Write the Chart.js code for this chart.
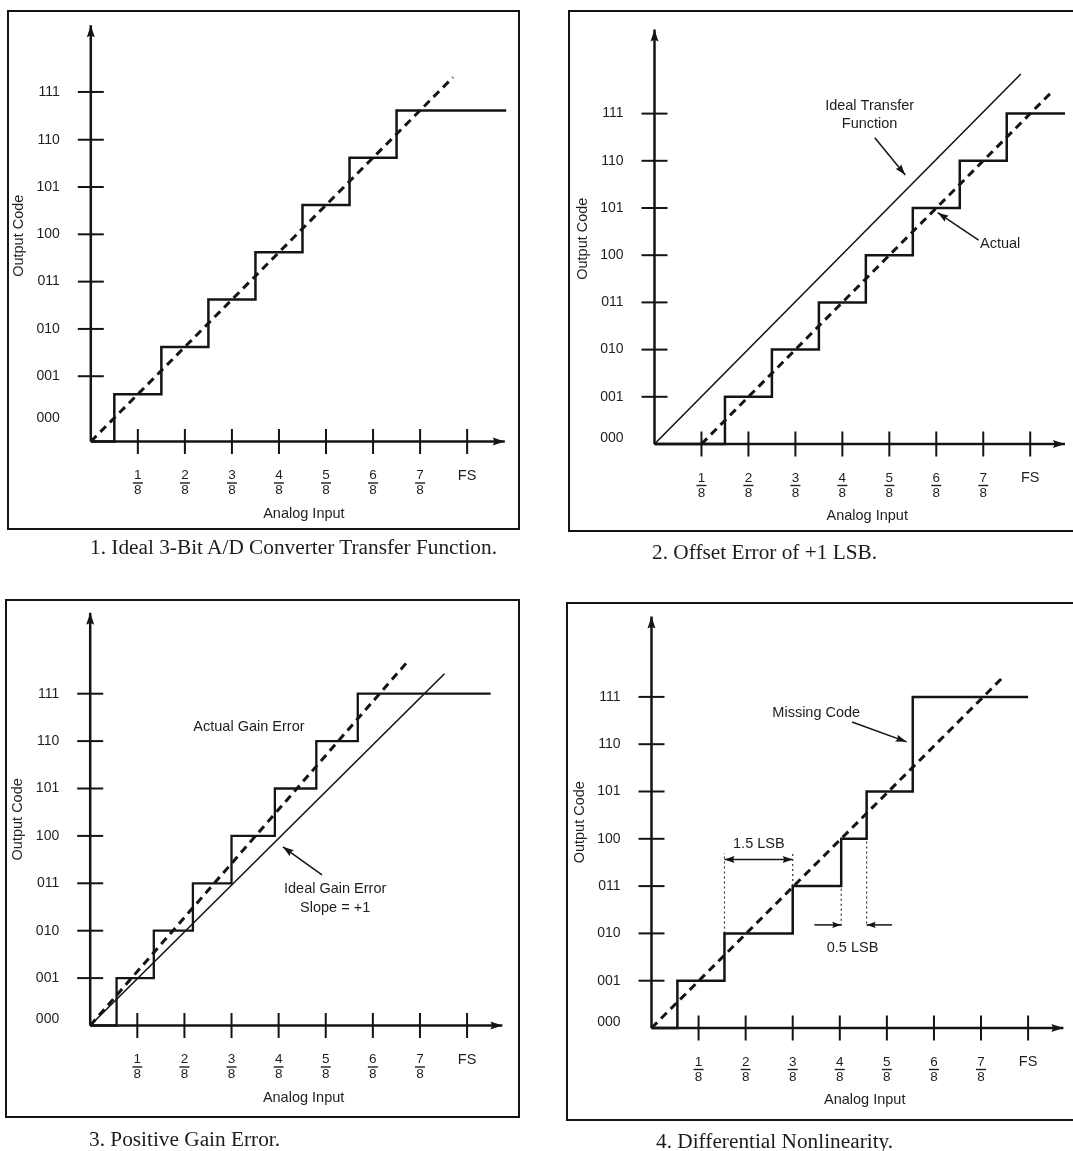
<!DOCTYPE html>
<html>
<head>
<meta charset="utf-8">
<script src="https://cdn.jsdelivr.net/npm/chart.js@4.4.1/dist/chart.umd.min.js"></script>
<style>
html,body{margin:0;padding:0;background:#fff;overflow:hidden;}
#page{position:relative;width:1073px;height:1151px;overflow:hidden;background:#fff;}
.frame{position:absolute;box-sizing:border-box;border:2.5px solid #141414;}
canvas{position:absolute;}
.cap{position:absolute;font-family:"Liberation Serif","Times New Roman",serif;font-size:21.3px;line-height:21px;color:#1c1c1c;white-space:nowrap;}
</style>
</head>
<body>
<div id="page">
  <div class="frame" style="left:7px;top:9.5px;width:513px;height:520px"></div>
  <div class="frame" style="left:568px;top:10px;width:520px;height:522px"></div>
  <div class="frame" style="left:5px;top:599px;width:515px;height:519px"></div>
  <div class="frame" style="left:566px;top:601.5px;width:520px;height:519px"></div>
  <canvas id="c1"></canvas>
  <canvas id="c2"></canvas>
  <canvas id="c3"></canvas>
  <canvas id="c4"></canvas>
  <div class="cap" style="left:90px;top:537px">1. Ideal 3-Bit A/D Converter Transfer Function.</div>
  <div class="cap" style="left:652px;top:542px">2. Offset Error of +1 LSB.</div>
  <div class="cap" style="left:89px;top:1129px">3. Positive Gain Error.</div>
  <div class="cap" style="left:656px;top:1131px">4. Differential Nonlinearity.</div>
</div>
<script>
// ---------- shared axis data ----------
const codeLabels = ['000','001','010','011','100','101','110','111'];
const xTickVals = [1,2,3,4,5,6,7,8];
const xTickLabels = [['1','8'],['2','8'],['3','8'],['4','8'],['5','8'],['6','8'],['7','8'],'FS'];

// ---------- Panel 1: ideal transfer function ----------
const p1CodePos = [0.49,1.38,2.38,3.38,4.38,5.38,6.38,7.39];
const p1Risers = [0.5,1.5,2.5,3.5,4.5,5.5,6.5];
const p1Codes = [1,2,3,4,5,6,7];
const p1StairEnd = 8.83;
const p1DashX = [0,7.7];
const p1DashY = [0,7.7];
const p1AxisTop = 8.8;
const p1AxisRight = 8.8;

// ---------- Panel 2: offset error ----------
const p2CodePos = [0.12,1,2,3,4,5,6,7];
const p2Risers = [1.5,2.5,3.5,4.5,5.5,6.5,7.5];
const p2Codes = [1,2,3,4,5,6,7];
const p2StairEnd = 8.74;
const p2DashX = [1,8.45];
const p2DashY = [0,7.45];
const p2IdealX = [0,7.8];
const p2IdealY = [0,7.84];
const p2AxisTop = 8.78;
const p2AxisRight = 8.74;
const p2NoteText = ['Ideal Transfer','Function','Actual'];
const p2NoteX = [4.58,4.58,7.36];
const p2NoteY = [7.16,6.77,4.23];
const p2ArrowFromX = [4.69,6.90];
const p2ArrowFromY = [6.49,4.32];
const p2ArrowToX = [5.34,6.03];
const p2ArrowToY = [5.70,4.90];

// ---------- Panel 3: positive gain error ----------
const p3CodePos = [0.13,1,2,3,4,5,6,7];
const p3Risers = [0.56,1.35,2.18,3.0,3.92,4.8,5.68];
const p3Codes = [1,2,3,4,5,6,7];
const p3StairEnd = 8.5;
const p3DashX = [0,6.74];
const p3DashY = [0,7.68];
const p3IdealX = [0,7.52];
const p3IdealY = [0,7.42];
const p3AxisTop = 8.71;
const p3AxisRight = 8.75;
const p3NoteText = ['Actual Gain Error','Ideal Gain Error','Slope = +1'];
const p3NoteX = [3.37,5.2,5.2];
const p3NoteY = [6.29,2.88,2.47];
const p3ArrowFromX = [4.92];
const p3ArrowFromY = [3.18];
const p3ArrowToX = [4.09];
const p3ArrowToY = [3.77];

// ---------- Panel 4: differential nonlinearity ----------
const p4CodePos = [0.12,1,2,3,4,5,6,7];
const p4Risers = [0.55,1.55,3.0,4.03,4.57,5.55];
const p4Codes = [1,2,3,4,5,7];
const p4StairEnd = 8.0;
const p4DashX = [0,7.5];
const p4DashY = [0,7.45];
const p4AxisTop = 8.7;
const p4AxisRight = 8.75;
const p4GuideX = [1.55,3.0,4.03,4.57];
const p4GuideFrom = [2,3,4,5];
const p4GuideTo = [3.7,3.7,2.14,2.14];
const p4DimX = [1.55,3.0];
const p4DimY = 3.56;
const p4SmallFromX = [3.46,5.11];
const p4SmallToX = [4.03,4.57];
const p4SmallY = 2.18;
const p4NoteText = ['Missing Code','1.5 LSB','0.5 LSB'];
const p4NoteX = [3.5,2.28,4.27];
const p4NoteY = [6.66,3.89,1.69];
const p4ArrowFromX = [4.26];
const p4ArrowFromY = [6.47];
const p4ArrowToX = [5.42];
const p4ArrowToY = [6.05];

// ---------- rendering ----------
const INK = '#141414';
const TEXT = '#1e1e1e';
const X_MAX = 9.06;
const Y_MAX = 8.7;
const X_TICK_GAP = 26.5;
const X_LABEL_LH = 15;
Chart.defaults.font.family = '"Liberation Sans", Arial, Helvetica, sans-serif';
Chart.defaults.color = TEXT;

function pts(xs, ys){ return xs.map((v,i)=>({x:v, y:ys[i]})); }

function drawHead(ctx, a, b, len, half, color){
  const ang = Math.atan2(b.y - a.y, b.x - a.x);
  ctx.save();
  ctx.translate(b.x, b.y);
  ctx.rotate(ang);
  ctx.beginPath();
  ctx.moveTo(0,0);
  ctx.lineTo(-len,-half);
  ctx.lineTo(-len*0.85,0);
  ctx.lineTo(-len,half);
  ctx.closePath();
  ctx.fillStyle = color;
  ctx.fill();
  ctx.restore();
}

const annotPlugin = {
  id: 'annot',
  afterDatasetsDraw(chart, args, opts){
    const ctx = chart.ctx;
    const xs = chart.scales.x, ys = chart.scales.y;
    ctx.save();
    chart.data.datasets.forEach((ds, i) => {
      if (!ds.headEnd && !ds.headStart) return;
      const d = chart.getDatasetMeta(i).data;
      const L = ds.headLen || 10, H = ds.headHalf || 3.5;
      if (ds.headEnd) drawHead(ctx, d[d.length-2], d[d.length-1], L, H, INK);
      if (ds.headStart) drawHead(ctx, d[1], d[0], L, H, INK);
    });
    // fraction bars of the x tick labels
    ctx.strokeStyle = TEXT;
    ctx.lineWidth = 1.4;
    xs.ticks.forEach((t, i) => {
      if (!Array.isArray(xTickLabels[i])) return;
      const px = xs.getPixelForValue(t.value);
      const py = xs.top + X_TICK_GAP + X_LABEL_LH;
      ctx.beginPath();
      ctx.moveTo(px - 5, py);
      ctx.lineTo(px + 5, py);
      ctx.stroke();
    });
    // text notes
    ctx.fillStyle = TEXT;
    ctx.font = '14.5px "Liberation Sans", Arial, sans-serif';
    ctx.textAlign = 'center';
    ctx.textBaseline = 'middle';
    (opts.text || []).forEach((s, i) => {
      ctx.fillText(s, xs.getPixelForValue(opts.x[i]), ys.getPixelForValue(opts.y[i]));
    });
    ctx.restore();
  }
};

function lineDs(data, extra){
  return Object.assign({
    data, borderColor: INK, borderWidth: 2.5, pointRadius: 0, fill: false,
    tension: 0, clip: false, borderCapStyle: 'butt', borderJoinStyle: 'miter'
  }, extra || {});
}

function stairs(risers, codes, endX){
  const d = [{x:0, y:0}];
  risers.forEach((r, i) => d.push({x:r, y:codes[i]}));
  d.push({x:endX, y:codes[codes.length-1]});
  return d;
}

function baseDatasets(codePos, axisTop, axisRight){
  return [
    lineDs(pts([0,0],[0,axisTop]), {headEnd:true, headLen:12, headHalf:4}),
    lineDs(pts([0,axisRight],[0,0]), {headEnd:true, headLen:12, headHalf:4}),
    lineDs(codePos.slice(1).map(v => ({x:0, y:v})), {showLine:false, pointStyle:'line', pointRadius:13, pointBorderWidth:2, pointBorderColor:INK, pointBackgroundColor:INK}),
    lineDs(xTickVals.map(v => ({x:v, y:0})), {showLine:false, pointStyle:'line', pointRotation:90, pointRadius:12.5, pointBorderWidth:2, pointBorderColor:INK, pointBackgroundColor:INK})
  ];
}

function arrowSets(fx, fy, tx, ty){
  return fx.map((v,i) => lineDs(pts([v, tx[i]],[fy[i], ty[i]]), {borderWidth:1.5, headEnd:true, headLen:11, headHalf:3.6}));
}

function makePanel(id, geo, codePos, datasets, notes){
  const cv = document.getElementById(id);
  cv.width = geo.w; cv.height = geo.h;
  cv.style.left = geo.px + 'px'; cv.style.top = geo.py + 'px';
  cv.style.width = geo.w + 'px'; cv.style.height = geo.h + 'px';
  const yW = geo.ox - geo.px;
  const bottom = geo.oy - geo.py;
  const xH = geo.h - bottom;
  const padR = geo.w - yW - X_MAX * geo.u;
  const padT = bottom - Y_MAX * geo.u;
  const TLH = 17;
  const yTitlePad = (geo.ox - 72 - geo.px) - TLH/2;
  const xTitlePad = (geo.py + geo.h) - (geo.oy + 72) - TLH/2;
  return new Chart(cv, {
    type: 'line',
    data: { datasets },
    options: {
      responsive: false, maintainAspectRatio: false, animation: false,
      devicePixelRatio: 1, events: [],
      layout: { padding: { left: 0, top: padT, right: padR, bottom: 0 } },
      plugins: { legend: {display:false}, tooltip: {enabled:false}, annot: notes },
      scales: {
        x: {
          type: 'linear', position: 'bottom', min: 0, max: X_MAX,
          afterBuildTicks: s => { s.ticks = xTickVals.map(v => ({value:v})); },
          afterFit: s => { s.height = xH; },
          grid: { display:true, drawOnChartArea:false, drawTicks:true, tickLength:X_TICK_GAP, tickColor:'rgba(0,0,0,0)' },
          border: { display:false },
          ticks: {
            autoSkip:false, maxRotation:0, minRotation:0, padding:0, color:TEXT,
            font: c => (c.index === xTickVals.length - 1) ? {size:14.5, lineHeight:'15px'} : {size:13.5, lineHeight:'15px'},
            callback: (v, i) => xTickLabels[i]
          },
          title: { display:true, text:'Analog Input', color:TEXT, font:{size:14.5, lineHeight:'17px'}, padding:{top:0, bottom:xTitlePad} }
        },
        y: {
          type: 'linear', position: 'left', min: 0, max: Y_MAX,
          afterBuildTicks: s => { s.ticks = codePos.map(v => ({value:v})); },
          afterFit: s => { s.width = yW; },
          grid: { display:true, drawOnChartArea:false, drawTicks:true, tickLength:31, tickColor:'rgba(0,0,0,0)' },
          border: { display:false },
          ticks: { autoSkip:false, padding:0, color:TEXT, font:{size:14}, callback: (v, i) => codeLabels[i] },
          title: { display:true, text:'Output Code', color:TEXT, font:{size:14.5, lineHeight:'17px'}, padding:{top:yTitlePad, bottom:0} }
        }
      }
    },
    plugins: [annotPlugin]
  });
}

const DASH = {borderWidth:3, borderDash:[8,5.5]};

// Panel 1
makePanel('c1', {px:2, py:2, w:530, h:540, ox:90.8, oy:441.5, u:47.3}, p1CodePos,
  baseDatasets(p1CodePos, p1AxisTop, p1AxisRight).concat([
    lineDs(stairs(p1Risers, p1Codes, p1StairEnd), {stepped:'before'}),
    lineDs(pts(p1DashX, p1DashY), DASH)
  ]), {text:[], x:[], y:[]});

// Panel 2
makePanel('c2', {px:565, py:2, w:530, h:545, ox:654.5, oy:444, u:47.2}, p2CodePos,
  baseDatasets(p2CodePos, p2AxisTop, p2AxisRight).concat([
    lineDs(stairs(p2Risers, p2Codes, p2StairEnd), {stepped:'before'}),
    lineDs(pts(p2DashX, p2DashY), DASH),
    lineDs(pts(p2IdealX, p2IdealY), {borderWidth:1.6})
  ], arrowSets(p2ArrowFromX, p2ArrowFromY, p2ArrowToX, p2ArrowToY)),
  {text:p2NoteText, x:p2NoteX, y:p2NoteY});

// Panel 3
makePanel('c3', {px:2, py:590, w:530, h:540, ox:90.2, oy:1025.5, u:47.4}, p3CodePos,
  baseDatasets(p3CodePos, p3AxisTop, p3AxisRight).concat([
    lineDs(stairs(p3Risers, p3Codes, p3StairEnd), {stepped:'before', borderWidth:2.3}),
    lineDs(pts(p3DashX, p3DashY), DASH),
    lineDs(pts(p3IdealX, p3IdealY), {borderWidth:1.6})
  ], arrowSets(p3ArrowFromX, p3ArrowFromY, p3ArrowToX, p3ArrowToY)),
  {text:p3NoteText, x:p3NoteX, y:p3NoteY});

// Panel 4
const p4Guides = p4GuideX.map((gx, i) => lineDs(pts([gx, gx],[p4GuideFrom[i], p4GuideTo[i]]), {borderWidth:1.2, borderDash:[2,3], borderColor:'#333'}));
const p4Dim = [lineDs(pts(p4DimX, [p4DimY, p4DimY]), {borderWidth:1.5, headEnd:true, headStart:true, headLen:10, headHalf:3.5})];
const p4Small = p4SmallFromX.map((fx, i) => lineDs(pts([fx, p4SmallToX[i]],[p4SmallY, p4SmallY]), {borderWidth:1.5, headEnd:true, headLen:9, headHalf:3.2}));
makePanel('c4', {px:563, py:592, w:530, h:540, ox:651.5, oy:1028, u:47.3}, p4CodePos,
  baseDatasets(p4CodePos, p4AxisTop, p4AxisRight).concat([
    lineDs(stairs(p4Risers, p4Codes, p4StairEnd), {stepped:'before'}),
    lineDs(pts(p4DashX, p4DashY), DASH)
  ], p4Guides, p4Dim, p4Small, arrowSets(p4ArrowFromX, p4ArrowFromY, p4ArrowToX, p4ArrowToY)),
  {text:p4NoteText, x:p4NoteX, y:p4NoteY});
</script>
</body>
</html>
